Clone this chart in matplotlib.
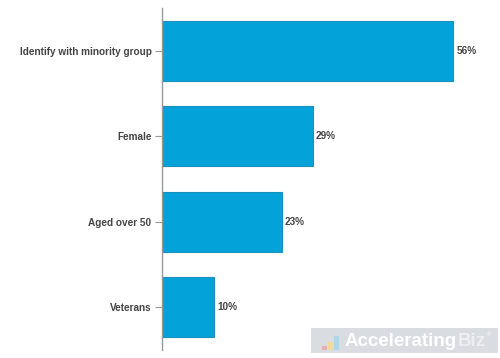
import matplotlib
matplotlib.use("Agg")
import matplotlib.pyplot as plt
from matplotlib.patches import Rectangle

categories = ["Identify with minority group", "Female", "Aged over 50", "Veterans"]
values = [56, 29, 23, 10]
value_labels = ["56%", "29%", "23%", "10%"]

plt.rcParams['font.family'] = ['Liberation Sans', 'DejaVu Sans']

fig = plt.figure(figsize=(5.0, 3.58), dpi=100)
ax = fig.add_axes([162/500, 8/358, (495-162)/500, 342/358])

ypos = list(range(len(categories)))
ax.barh(ypos, values, height=0.7, color="#03a2d8", edgecolor="#1b8fc0", linewidth=0.8)
ax.set_ylim(len(categories) - 0.5, -0.5)
ax.set_xlim(0, 64)

for y, v, lab in zip(ypos, values, value_labels):
    ax.text(v + 0.6, y, lab, va="center", ha="left", fontsize=7.2, fontweight="bold", color="#444444")

ax.set_yticks(ypos)
ax.set_yticklabels(categories, fontsize=7.2, fontweight="bold", color="#444444")
ax.tick_params(axis="y", length=5, width=0.8, color="#999999", pad=2.5)
ax.set_xticks([])
for s in ["top", "right", "bottom"]:
    ax.spines[s].set_visible(False)
ax.spines["left"].set_color("#999999")
ax.spines["left"].set_linewidth(1.0)

# watermark
fig.patches.append(Rectangle((311/500, 1 - 353/358), (498-311)/500, 25/358,
                             transform=fig.transFigure, facecolor="#d5d9dd", edgecolor="none", alpha=0.9))
t1 = fig.text(345/500, 1 - 341/358, "Accelerating", fontsize=13.5, fontweight="bold", color="white", va="center", ha="left")
fig.canvas.draw()
bb = t1.get_window_extent()
t2 = fig.text((bb.x1 + 0.5)/500, 1 - 341/358, "Biz", fontsize=13.5, fontweight="bold", color="#eceef0", va="center", ha="left")
fig.canvas.draw()
bb2 = t2.get_window_extent()
fig.text((bb2.x1 + 1.5)/500, 1 - 335/358, "®", fontsize=4.5, color="white", va="center", ha="left")
# small logo bars
lx = [322, 328, 334]
lh = [4, 8, 14]
lc = ["#f4a3a3", "#f7d98a", "#9fd8ee"]
for x0, h, c in zip(lx, lh, lc):
    fig.patches.append(Rectangle((x0/500, 1 - 350/358), 5/500, h/358, transform=fig.transFigure,
                                 facecolor=c, edgecolor="none", alpha=0.8))

fig.savefig("out.png", dpi=100)
